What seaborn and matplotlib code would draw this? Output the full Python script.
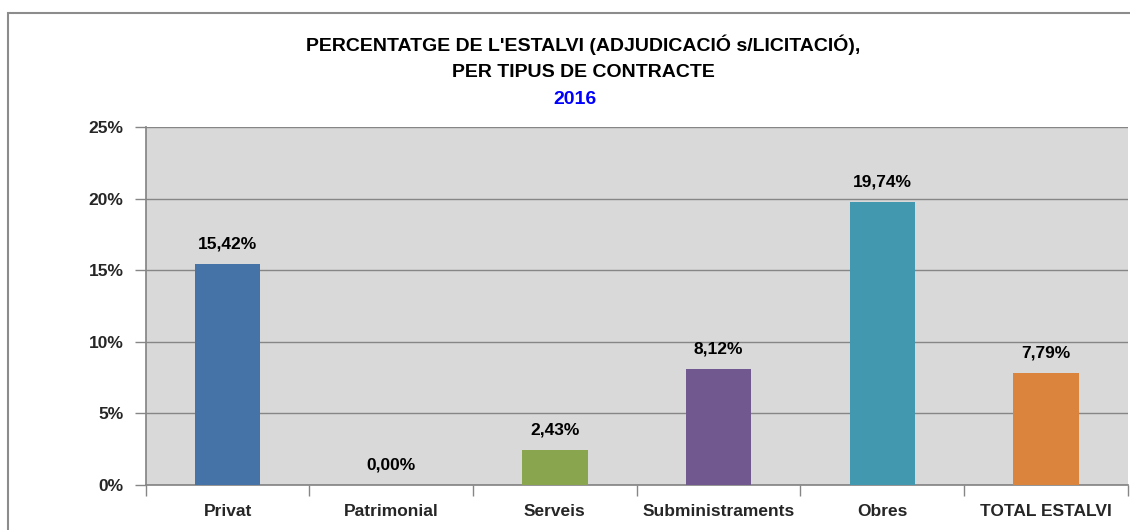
import matplotlib
matplotlib.use("Agg")
import matplotlib.pyplot as plt
import seaborn as sns
import numpy as np
import pandas as pd
from matplotlib.patches import Rectangle
from matplotlib.ticker import FixedLocator, FuncFormatter

categories = ["Privat", "Patrimonial", "Serveis", "Subministraments", "Obres", "TOTAL ESTALVI"]
values = [15.42, 0.00, 2.43, 8.12, 19.74, 7.79]
labels = ["15,42%", "0,00%", "2,43%", "8,12%", "19,74%", "7,79%"]
colors = ["#4572A7", "#AA4643", "#89A54E", "#71588F", "#4198AF", "#DB843D"]
yticks = [0, 5, 10, 15, 20, 25]

sns.set_theme(style="white")
plt.rcParams['font.family'] = ['Liberation Sans Narrow', 'Liberation Sans', 'DejaVu Sans']

fig = plt.figure(figsize=(11.3, 5.3), dpi=100)
ax = fig.add_axes([0.129, 0.085, 0.869, 0.675])

df = pd.DataFrame({"cat": categories, "val": values})
sns.barplot(data=df, x="cat", y="val", hue="cat", palette=colors, width=0.4,
            legend=False, ax=ax, zorder=3, saturation=1, linewidth=0)

ax.set_facecolor("#D9D9D9")
ax.set_ylim(0, 25)
ax.set_xlim(-0.5, len(categories) - 0.5)
ax.yaxis.set_major_locator(FixedLocator(yticks))
ax.yaxis.set_major_formatter(FuncFormatter(lambda v, p: f"{int(v)}%"))
ax.grid(axis="y", color="#868686", linewidth=1, zorder=0)
ax.set_axisbelow(True)

# x ticks at category boundaries, labels at centres
ax.set_xticks(np.arange(-0.5, len(categories), 1.0))
ax.set_xticklabels([])
ax.set_xticks(np.arange(len(categories)), minor=True)
ax.set_xticklabels(categories, minor=True, fontsize=12.5, fontweight="bold")
ax.tick_params(axis="x", which="major", length=8, color="#868686", width=1, direction="out", bottom=True)
ax.tick_params(axis="x", which="minor", length=0, pad=14)
ax.tick_params(axis="y", length=8, color="#868686", width=1, direction="out", left=True,
               labelsize=12.5, pad=8)
for t in ax.get_yticklabels():
    t.set_fontweight("bold")
ax.set_xlabel("")
ax.set_ylabel("")

for s in ["top", "right"]:
    ax.spines[s].set_visible(False)
ax.spines["left"].set_color("#868686")
ax.spines["bottom"].set_color("#868686")

for i, (v, lab) in enumerate(zip(values, labels)):
    ax.annotate(lab, (i, v), xytext=(0, 9), textcoords="offset points",
                ha="center", va="bottom", fontsize=12.5, fontweight="bold", color="black")

fig.text(0.516, 0.915, "PERCENTATGE DE L'ESTALVI (ADJUDICACIÓ s/LICITACIÓ),", ha="center", va="center",
         fontsize=14, fontweight="bold", color="black")
fig.text(0.516, 0.864, "PER TIPUS DE CONTRACTE", ha="center", va="center",
         fontsize=14, fontweight="bold", color="black")
fig.text(0.509, 0.813, "2016", ha="center", va="center",
         fontsize=14, fontweight="bold", color="#0000FF")

fig.patches.append(Rectangle((8 / 1130, -0.1), 1.2, (530 - 13) / 530 + 0.1, transform=fig.transFigure,
                             fill=False, edgecolor="#8C8C8C", linewidth=1.5))

fig.savefig("out.png", dpi=100)
